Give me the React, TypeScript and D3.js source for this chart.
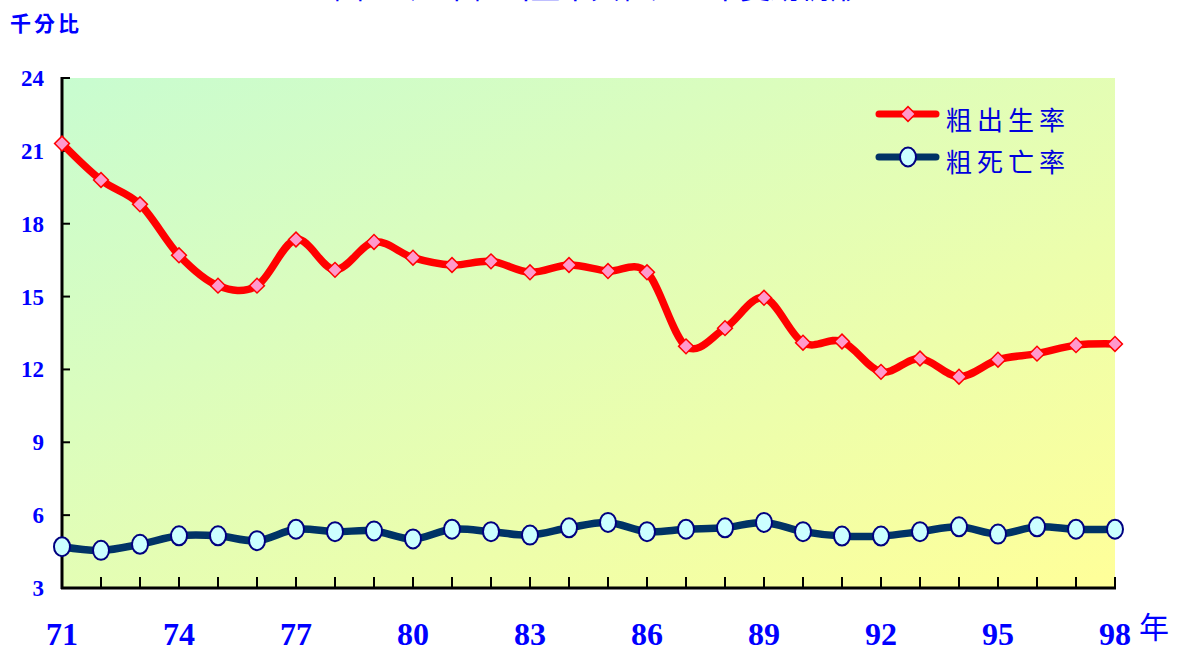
import React, { useEffect, useRef } from 'react'
import * as d3 from 'd3'

// 民國年
const years = [71, 72, 73, 74, 75, 76, 77, 78, 79, 80, 81, 82, 83, 84, 85, 86, 87, 88, 89, 90, 91, 92, 93, 94, 95, 96, 97, 98]
// 粗出生率 (‰)
const birthRate = [21.3, 19.8, 18.8, 16.7, 15.45, 15.45, 17.35, 16.1, 17.25, 16.6, 16.3, 16.45, 16.0, 16.3, 16.05, 16.0, 12.95, 13.7, 14.95, 13.1, 13.15, 11.9, 12.45, 11.7, 12.4, 12.65, 13.0, 13.05]
// 粗死亡率 (‰)
const deathRate = [4.7, 4.55, 4.8, 5.15, 5.15, 4.95, 5.42, 5.32, 5.35, 5.02, 5.42, 5.32, 5.18, 5.48, 5.7, 5.32, 5.42, 5.48, 5.7, 5.32, 5.14, 5.14, 5.32, 5.52, 5.22, 5.52, 5.42, 5.42]
const yTicks = [3, 6, 9, 12, 15, 18, 21, 24]
const xLabels = [71, 74, 77, 80, 83, 86, 89, 92, 95, 98]
const seriesNames = ['粗出生率', '粗死亡率']

const numFont = '"Liberation Serif", "DejaVu Serif", serif'
const cjkFont = '"Noto Sans CJK TC", "Noto Sans CJK SC", sans-serif'

export default function App () {
  const ref = useRef<SVGSVGElement>(null)

  useEffect(() => {
    const svg = d3.select(ref.current)
    svg.selectAll('*').remove()

    const left = 62
    const right = 1115
    const top = 78
    const bottom = 588

    const x = d3.scaleLinear().domain([71, 98]).range([left, right])
    const y = d3.scaleLinear().domain([3, 24]).range([bottom, top])

    const defs = svg.append('defs')
    const grad = defs.append('linearGradient')
      .attr('id', 'bg')
      .attr('x1', 0).attr('y1', 0).attr('x2', 1).attr('y2', 1)
    grad.append('stop').attr('offset', '0%').attr('stop-color', '#c8fcd0')
    grad.append('stop').attr('offset', '100%').attr('stop-color', '#ffff99')

    svg.append('rect')
      .attr('x', left).attr('y', top)
      .attr('width', right - left).attr('height', bottom - top)
      .attr('fill', 'url(#bg)')

    // title (cut off at top in the original too)
    svg.append('text')
      .attr('x', 597).attr('y', -2)
      .attr('text-anchor', 'middle')
      .attr('font-family', cjkFont)
      .attr('font-size', 30)
      .attr('fill', '#0000ff')
      .text('圖1　歷年粗出生率與粗死亡率變動情形')

    svg.append('text')
      .attr('x', 10).attr('y', 31)
      .attr('font-family', cjkFont)
      .attr('font-size', 21)
      .attr('font-weight', 'bold')
      .attr('letter-spacing', 3)
      .attr('fill', '#0000ff')
      .text('千分比')

    // y axis
    const yAxis = svg.append('g')
    yAxis.append('line')
      .attr('x1', left).attr('x2', left).attr('y1', top - 1).attr('y2', bottom + 1)
      .attr('stroke', '#000').attr('stroke-width', 3)
    yTicks.forEach((t) => {
      yAxis.append('line')
        .attr('x1', left).attr('x2', left + 8).attr('y1', y(t)).attr('y2', y(t))
        .attr('stroke', '#000').attr('stroke-width', 2)
      yAxis.append('text')
        .attr('x', 44).attr('y', y(t))
        .attr('dy', '0.35em')
        .attr('text-anchor', 'end')
        .attr('font-family', numFont)
        .attr('font-weight', 'bold')
        .attr('font-size', 23)
        .attr('fill', '#0000ff')
        .text(t)
    })

    // x axis
    const xAxis = svg.append('g')
    xAxis.append('line')
      .attr('x1', left - 1).attr('x2', right + 1).attr('y1', bottom).attr('y2', bottom)
      .attr('stroke', '#000').attr('stroke-width', 3)
    years.forEach((yr) => {
      xAxis.append('line')
        .attr('x1', x(yr)).attr('x2', x(yr)).attr('y1', bottom).attr('y2', bottom - 11)
        .attr('stroke', '#000').attr('stroke-width', 2)
    })
    xLabels.forEach((yr) => {
      xAxis.append('text')
        .attr('x', x(yr)).attr('y', 645)
        .attr('text-anchor', 'middle')
        .attr('font-family', numFont)
        .attr('font-weight', 'bold')
        .attr('font-size', 32)
        .attr('fill', '#0000ff')
        .text(yr)
    })
    svg.append('text')
      .attr('x', 1139).attr('y', 638)
      .attr('font-family', cjkFont)
      .attr('font-size', 30)
      .attr('fill', '#0000ff')
      .text('年')

    const line = d3.line<number>()
      .x((d, i) => x(years[i]))
      .y((d) => y(d))
      .curve(d3.curveCardinal)

    const diamond = d3.symbol().type(d3.symbolSquare).size(110)

    // death rate
    svg.append('path')
      .attr('d', line(deathRate))
      .attr('fill', 'none')
      .attr('stroke', '#003366')
      .attr('stroke-width', 7.5)
      .attr('stroke-linejoin', 'round')
    svg.append('g').selectAll('ellipse')
      .data(deathRate)
      .enter().append('ellipse')
      .attr('cx', (d, i) => x(years[i]))
      .attr('cy', (d) => y(d))
      .attr('rx', 8).attr('ry', 9.5)
      .attr('fill', '#ccffff')
      .attr('stroke', '#000080')
      .attr('stroke-width', 2)

    // birth rate
    svg.append('path')
      .attr('d', line(birthRate))
      .attr('fill', 'none')
      .attr('stroke', '#ff0000')
      .attr('stroke-width', 7.5)
      .attr('stroke-linejoin', 'round')
    svg.append('g').selectAll('path')
      .data(birthRate)
      .enter().append('path')
      .attr('d', diamond)
      .attr('transform', (d, i) => 'translate(' + x(years[i]) + ',' + y(d) + ') rotate(45)')
      .attr('fill', '#ff99cc')
      .attr('stroke', '#ff0000')
      .attr('stroke-width', 1.5)

    // legend
    const lg = svg.append('g')
    const rows = [
      { name: seriesNames[0], color: '#ff0000', ly: 114, ty: 130 },
      { name: seriesNames[1], color: '#003366', ly: 157, ty: 172 }
    ]
    rows.forEach((r, k) => {
      lg.append('line')
        .attr('x1', 879).attr('x2', 936).attr('y1', r.ly).attr('y2', r.ly)
        .attr('stroke', r.color).attr('stroke-width', 7).attr('stroke-linecap', 'round')
      if (k === 0) {
        lg.append('path')
          .attr('d', diamond)
          .attr('transform', 'translate(908,' + r.ly + ') rotate(45)')
          .attr('fill', '#ff99cc').attr('stroke', '#ff0000').attr('stroke-width', 1.5)
      } else {
        lg.append('ellipse')
          .attr('cx', 908).attr('cy', r.ly).attr('rx', 8).attr('ry', 9.5)
          .attr('fill', '#ccffff').attr('stroke', '#000080').attr('stroke-width', 2)
      }
      lg.append('text')
        .attr('x', 946).attr('y', r.ty)
        .attr('font-family', cjkFont)
        .attr('font-size', 26)
        .attr('letter-spacing', 5)
        .attr('fill', '#0000dd')
        .text(r.name)
    })
  }, [])

  return (
    <svg ref={ref} width={1185} height={651} style={{ position: 'absolute', left: 0, top: 0, background: '#fff' }} />
  )
}
